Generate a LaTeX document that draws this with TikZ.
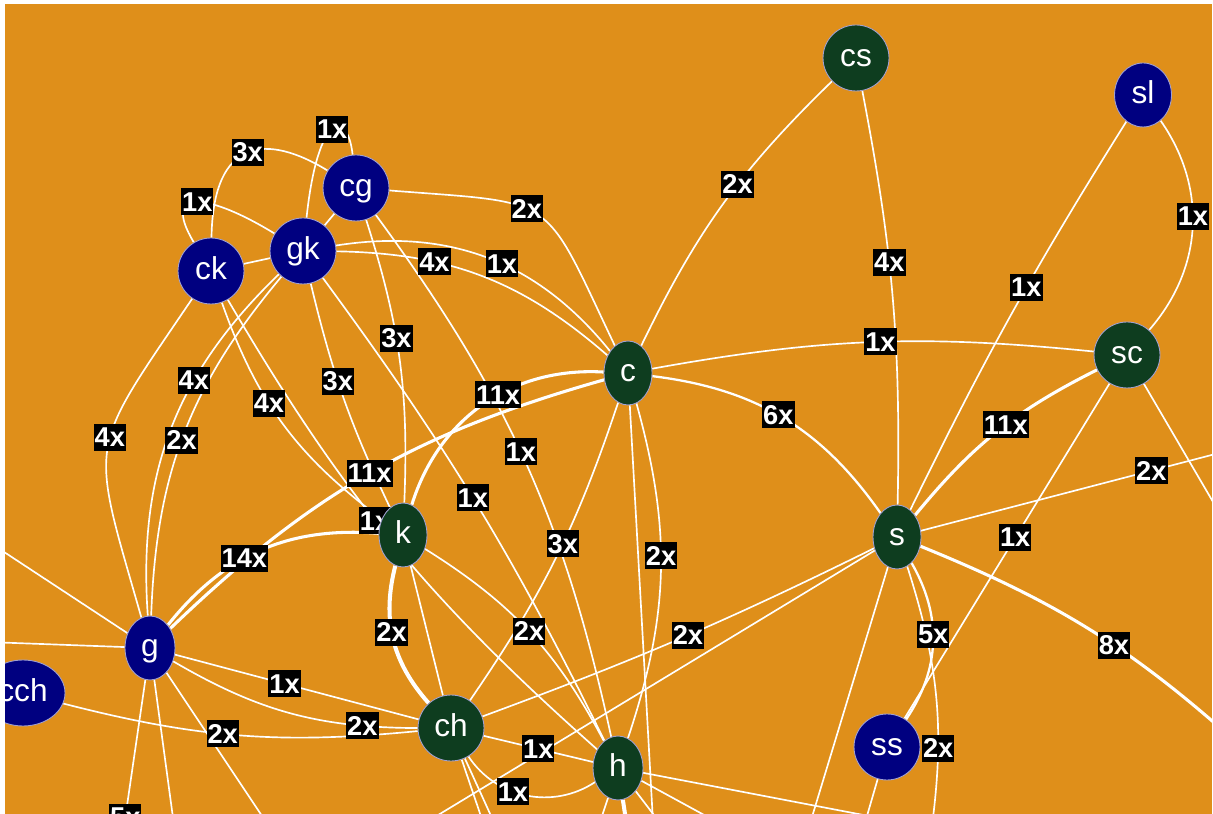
\documentclass[tikz,border=0pt]{standalone}
\usepackage{fontspec}
\setsansfont{Liberation Sans}
\usetikzlibrary{shapes.geometric,backgrounds}
\definecolor{paper}{HTML}{DF8F1A}
\definecolor{navyfill}{HTML}{000080}
\definecolor{pinefill}{HTML}{0E3D1F}
\definecolor{rim}{HTML}{A0A0D0}

\begin{document}
\begin{tikzpicture}[
  x=0.02cm, y=0.02cm,
  vertex/.style={ellipse, draw=rim, line width=0.5pt, inner sep=0pt, text=white,
    font=\sffamily\fontsize{18}{18}\selectfont, text height=9.4pt, text depth=0pt},
  navynode/.style={vertex, fill=navyfill},
  pinenode/.style={vertex, fill=pinefill},
  round/.style={minimum width=1.32cm, minimum height=1.32cm},
  oval/.style={minimum width=0.96cm, minimum height=1.28cm},
  link/.style={draw=white, line width=0.95pt},
  med/.style={link, line width=1.3pt},
  heavy/.style={link, line width=1.75pt},
  count/.style={fill=black, text=white, inner xsep=0.6pt, inner ysep=0pt,
    minimum height=0.54cm, font=\sffamily\bfseries\fontsize{15.5}{15.5}\selectfont}
]
  \useasboundingbox (0,0) rectangle (1213,814);

  \begin{scope}
    \clip (5,0) rectangle (1212,810);
    \node[pinenode, round] (cs) at (856,756) {cs};
    \node[navynode, minimum width=1.14cm, minimum height=1.28cm] (sl) at (1143,719) {sl};
    \node[navynode, round] (cg) at (356,626) {cg};
    \node[navynode, round] (gk) at (303,563) {gk};
    \node[navynode, round] (ck) at (211,543) {ck};
    \node[pinenode, oval] (c) at (628,441) {c};
    \node[pinenode, round] (sc) at (1127,459) {sc};
    \node[pinenode, oval] (s) at (897,277) {s};
    \node[pinenode, oval] (k) at (403,279) {k};
    \node[navynode, oval, minimum width=1cm] (g) at (150,166) {g};
    \node[navynode, minimum width=1.68cm, minimum height=1.32cm] (cch) at (23,121) {cch};
    \node[pinenode, round] (ch) at (451,86) {ch};
    \node[pinenode, oval, minimum width=1cm] (h) at (618,46) {h};
    \node[navynode, round] (ss) at (887,67) {ss};
  \end{scope}

  \begin{scope}[on background layer]
    \clip (5,0) rectangle (1212,810);
    \fill[paper] (5,0) rectangle (1212,810);

    % loose ends beyond the frame
    \coordinate (oA) at (-40,291);
    \coordinate (oB) at (-40,173);
    \coordinate (oC) at (122,-26);
    \coordinate (oD) at (176,-26);
    \coordinate (oE) at (278,-26);
    \coordinate (oF) at (489,-26);
    \coordinate (oG) at (502,-26);
    \coordinate (oH) at (420,-12);
    \coordinate (oI) at (594,-26);
    \coordinate (oJ) at (629,-26);
    \coordinate (oK) at (654,-26);
    \coordinate (oL) at (673,-26);
    \coordinate (oS) at (750,-26);
    \coordinate (oT) at (900,-8);
    \coordinate (oM) at (1250,369);
    \coordinate (oN) at (1240,266);
    \coordinate (oO) at (1245,64);
    \coordinate (oP) at (930,-26);
    \coordinate (oQ) at (805,-26);
    \coordinate (oR) at (860,-26);

    % right half
    \draw[link] (cs) to[bend right=10] coordinate[pos=.42] (m1) (c);
    \draw[link] (cs) to[bend left=6] coordinate[pos=.41] (m2) (s);
    \draw[link] (sl) to[bend right=3] coordinate[pos=.43] (m3) (s);
    \draw[link] (sl) to[bend left=38] coordinate[pos=.45] (m4) (sc);
    \draw[link] (c) to[bend left=8] coordinate[pos=.52] (m5) (sc);
    \draw[heavy] (s) to[bend left=12] coordinate[pos=.55] (m6) (sc);
    \draw[med] (c) to[bend left=24] coordinate[pos=.48] (m7) (s);
    \draw[link] (s) -- coordinate[pos=.7] (m8) (oM);
    \draw[link] (sc) -- coordinate[pos=.46] (m9) (ss);
    \draw[link] (sc) -- (oN);
    \draw[heavy] (s) to[bend left=10] coordinate[pos=.57] (m10) (oO);
    \draw[med] (s) to[bend left=32] coordinate[pos=.45] (m11) (ss);
    \draw[link] (s) to[bend left=13] coordinate[pos=.68] (m12) (oP);
    \draw[link] (s) -- (oQ);
    \draw[link] (ss) -- (oR);
    \draw[link] (s) to[bend left=3] coordinate[pos=.48] (m13) (ch);
    \draw[link] (s) -- (oH);

    % upper left
    \draw[link] (gk) to[bend left=30] coordinate[pos=.55] (m14) (c);
    \draw[link] (gk) to[bend left=20] coordinate[pos=.32] (m15) (c);
    \draw[link] (cg) to[bend left=30, looseness=1.6] coordinate[pos=.43] (m16) (c);
    \draw[link] (gk) .. controls (318,704) and (348,704) .. (cg) coordinate[pos=.5] (m17);
    \draw[link] (ck) .. controls (213,678) and (268,680) .. (cg) coordinate[pos=.5] (m18);
    \draw[link] (gk) .. controls (210,620) and (160,628) .. (ck) coordinate[pos=.5] (m19);
    \draw[link] (gk) -- (ck);
    \draw[link] (gk) -- (cg);
    \draw[link] (gk) to[bend right=6] coordinate[pos=.42] (m20) (k);
    \draw[link] (cg) to[bend left=10] coordinate[pos=.42] (m21) (k);
    \draw[link] (cg) to[bend left=12] coordinate[pos=.48] (m22) (h);
    \draw[link] (gk) to[bend left=5] coordinate[pos=.49] (m23) (h);
    \draw[link] (ck) to[bend right=17] coordinate[pos=.4] (m24) (k);
    \draw[link] (ck) to[bend right=9] coordinate[pos=.45] (m25) (h);
    \draw[link] (ck) to[bend right=25, looseness=1.5] coordinate[pos=.45] (m26) (g);
    \draw[link] (gk) to[bend right=25] coordinate[pos=.35] (m27) (g);
    \draw[link] (gk) to[bend right=19] coordinate[pos=.52] (m28) (g);

    % centre
    \draw[heavy] (c) to[bend right=38] coordinate[pos=.43] (m29) (k);
    \draw[heavy] (c) to[bend right=14] coordinate[pos=.5] (m30) (g);
    \draw[heavy] (k) to[bend right=28] coordinate[pos=.58] (m31) (g);
    \draw[link] (c) to[bend left=8] coordinate[pos=.45] (m32) (ch);
    \draw[link] (c) to[bend left=17] coordinate[pos=.45] (m33) (h);
    \draw[link] (c) -- (oK);
    \draw[link, line width=2.3pt] (k) to[bend right=28] coordinate[pos=.45] (m34) (ch);
    \draw[link] (k) -- (ch);
    \draw[link] (k) to[bend left=15] coordinate[pos=.5] (m35) (h);

    % bottom
    \draw[link] (ch) -- coordinate[pos=.5] (m36) (h);
    \draw[link] (ch) to[bend right=45] coordinate[pos=.4] (m37) (h);
    \draw[link] (g) -- coordinate[pos=.45] (m38) (ch);
    \draw[link] (g) to[bend right=15] coordinate[pos=.8] (m39) (ch);
    \draw[link] (cch) to[bend right=10] coordinate[pos=.45] (m40) (ch);
    \draw[link] (g) -- (oA);
    \draw[link] (g) -- (oB);
    \draw[link] (g) -- coordinate[pos=.86] (m41) (oC);
    \draw[link] (g) -- (oD);
    \draw[link] (g) -- (oE);
    \draw[link] (ch) -- (oF);
    \draw[link] (ch) -- (oG);
    \draw[link] (h) -- (oI);
    \draw[link, line width=2.3pt] (h) -- (oJ);
    \draw[link] (h) -- (oL);
    \draw[link] (h) -- (oS);
    \draw[link] (h) -- (oT);

    % counts
    \node[count] (n1) at (m1) {2x};
    \node[count] (n2) at (m2) {4x};
    \node[count] (n3) at (m3) {1x};
    \node[count] (n4) at (m4) {1x};
    \node[count] (n5) at (m5) {1x};
    \node[count] (n6) at (m6) {11x};
    \node[count] (n7) at (m7) {6x};
    \node[count] (n8) at (m8) {2x};
    \node[count] (n9) at (m9) {1x};
    \node[count] (n10) at (m10) {8x};
    \node[count] (n11) at (m11) {5x};
    \node[count] (n12) at (m12) {2x};
    \node[count] (n13) at (m13) {2x};
    \node[count] (n14) at (m14) {1x};
    \node[count] (n15) at (m15) {4x};
    \node[count] (n16) at (m16) {2x};
    \node[count] (n17) at (m17) {1x};
    \node[count] (n18) at (m18) {3x};
    \node[count] (n19) at (m19) {1x};
    \node[count] (n20) at (m20) {3x};
    \node[count] (n21) at (m21) {3x};
    \node[count] (n22) at (m22) {1x};
    \node[count] (n23) at (m23) {1x};
    \node[count] (n24) at (m24) {4x};
    \node[count] (n25) at (m25) {1x};
    \node[count] (n26) at (m26) {4x};
    \node[count] (n27) at (m27) {4x};
    \node[count] (n28) at (m28) {2x};
    \node[count] (n29) at (m29) {11x};
    \node[count] (n30) at (m30) {11x};
    \node[count] (n31) at (m31) {14x};
    \node[count] (n32) at (m32) {3x};
    \node[count] (n33) at (m33) {2x};
    \node[count] (n34) at (m34) {2x};
    \node[count] (n35) at (m35) {2x};
    \node[count] (n36) at (m36) {1x};
    \node[count] (n37) at (m37) {1x};
    \node[count] (n38) at (m38) {1x};
    \node[count] (n39) at (m39) {2x};
    \node[count] (n40) at (m40) {2x};
    \node[count] (n41) at (m41) {5x};
  \end{scope}
\end{tikzpicture}
\end{document}
